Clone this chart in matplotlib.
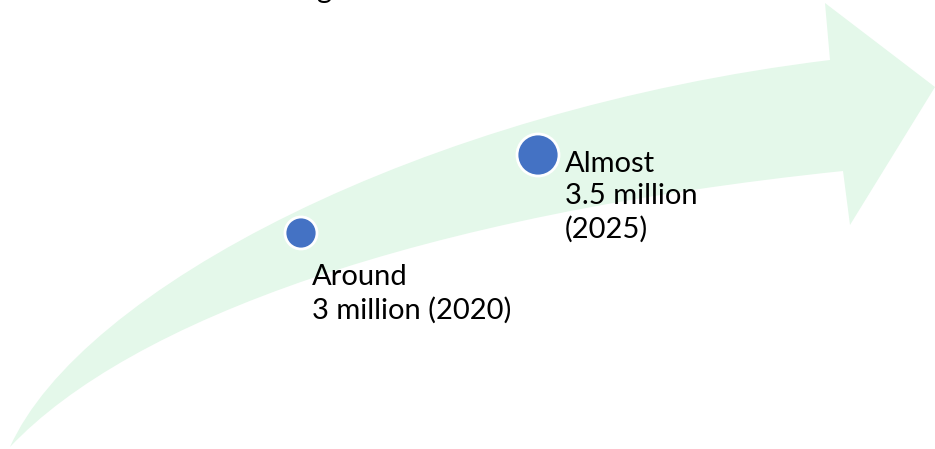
import matplotlib.pyplot as plt
from matplotlib.path import Path
from matplotlib.patches import PathPatch

# Data
years = [2020, 2025]
labels = ["Around\n3 million (2020)", "Almost\n3.5 million\n(2025)"]

# Layout (pixel coordinates on a 935x449 canvas)
dot_x = [301, 538]
dot_y = [233, 155]
dot_size = [16, 21]
label_xy = [(312, 264), (565, 151)]

green = "#E4F8EA"
blue = "#4472C4"

fig = plt.figure(figsize=(9.35, 4.49), dpi=100)
ax = fig.add_axes([0, 0, 1, 1])
ax.set_xlim(0, 935)
ax.set_ylim(449, 0)
ax.axis("off")

# curved arrow
verts = [
    (10, 447),
    (80, 290), (420, 110), (830, 60),   # upper edge
    (825, 3),
    (935, 87),
    (850, 225),
    (843, 171),
    (420, 215), (130, 320), (10, 447),  # lower edge back to tail
]
codes = [Path.MOVETO,
         Path.CURVE4, Path.CURVE4, Path.CURVE4,
         Path.LINETO, Path.LINETO, Path.LINETO, Path.LINETO,
         Path.CURVE4, Path.CURVE4, Path.CURVE4]
ax.add_patch(PathPatch(Path(verts, codes), facecolor=green, edgecolor="none"))

for x, y, r in zip(dot_x, dot_y, dot_size):
    c = plt.Circle((x, y), r, facecolor=blue, edgecolor="white", linewidth=2, zorder=3)
    ax.add_patch(c)

for (x, y), txt in zip(label_xy, labels):
    ax.text(x, y, txt, fontsize=21, family="Lato", va="top", ha="left",
            linespacing=1.3, color="black")

# caption cut off at the top edge
ax.text(316, -2, "g", fontsize=21, family="Lato", va="baseline", ha="left")

fig.savefig("out.png", dpi=100)
